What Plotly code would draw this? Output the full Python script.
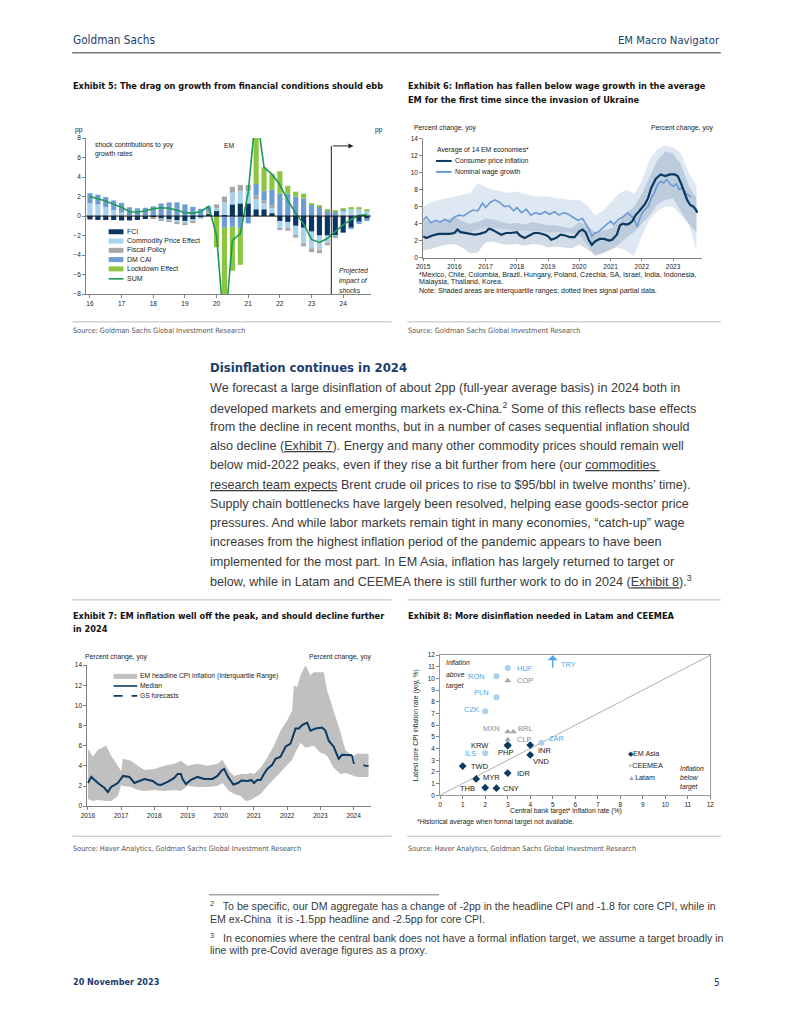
import plotly.graph_objects as go

# The page keeps the browser's default 8px body margin, so the figure is 775x1008 and
# every layout coordinate below is given in page pixels, shifted by that margin.
OFF = 8
W, H = 775, 1008
def X(p): return (p - OFF) / W
def Y(p): return 1 - (p - OFF) / H

NARROW = "Liberation Sans Narrow, DejaVu Sans Condensed, Arial Narrow, sans-serif"
SANS = "Liberation Sans, Arial, Helvetica, sans-serif"
NAVY = "#0b3a63"
HEAD = "#1c3d6b"
TXT = "#3a3a3a"
AX = "#808080"
CF = 6.8  # chart annotation font size

# ---------------- Exhibit 5 data (quarterly shock contributions, pp) ----------------
ex5_quarters = ["2016Q1","2016Q2","2016Q3","2016Q4","2017Q1","2017Q2","2017Q3","2017Q4",
                "2018Q1","2018Q2","2018Q3","2018Q4","2019Q1","2019Q2","2019Q3","2019Q4",
                "2020Q1","2020Q2","2020Q3","2020Q4","2021Q1","2021Q2","2021Q3","2021Q4",
                "2022Q1","2022Q2","2022Q3","2022Q4","2023Q1","2023Q2","2023Q3","2023Q4",
                "2024Q1","2024Q2","2024Q3","2024Q4"]
ex5_tick_quarters = ["2016Q1","2017Q1","2018Q1","2019Q1","2020Q1","2021Q1","2022Q1","2023Q1","2024Q1"]
ex5_tick_text = ["16","17","18","19","20","21","22","23","24"]
ex5_fci = [-0.35,-0.4,-0.4,-0.4,-0.45,-0.45,-0.4,-0.3,-0.2,-0.3,-0.35,-0.45,-0.5,-0.4,-0.2,0.3,
           0.6,0.1,1.2,1.3,1.3,0.7,0.7,0.3,-0.5,-0.6,-1.0,-1.2,-1.6,-2.0,-2.0,-2.0,
           -1.7,-1.2,-0.6,-0.3]
ex5_commodity = [1.3,1.2,0.9,0.6,0.35,0.1,0.05,0.05,0.0,-0.05,-0.15,-0.2,-0.25,-0.2,-0.1,0.05,
                 0.2,1.3,1.2,1.3,1.3,1.0,0.6,0.5,-0.8,-0.7,-1.0,-1.6,-1.7,-1.5,-0.8,-0.1,
                 0.6,0.8,0.8,0.6]
ex5_fiscal = [0.0,0.0,0.0,0.0,0.0,0.0,0.0,0.0,-0.05,-0.1,-0.1,-0.15,-0.1,-0.05,0.0,0.15,
              0.4,0.6,0.6,0.6,0.6,0.4,0.3,0.3,-0.1,-0.2,-0.2,-0.3,-0.4,-0.3,-0.2,-0.1,
              0.0,0.0,0.0,0.0]
ex5_dmcai = [1.05,1.0,1.05,1.0,1.0,0.8,0.75,0.8,1.0,1.3,1.4,1.4,1.2,0.95,0.75,0.5,
             0.0,-1.2,-1.1,-1.2,-0.75,1.2,1.0,1.6,2.3,2.3,2.0,1.8,1.2,1.0,0.6,0.5,
             0.1,-0.05,-0.2,-0.2]
ex5_lockdown = [0,0,0,0,0,0,0,0,0,0,0,0,0,0,0,0,
                -3.2,-12.8,-4.5,-3.8,0.0,7.7,2.4,1.6,2.3,0.8,0.5,0.5,0.1,0.1,0.1,0.1,
                0.1,0.1,0.05,0.05]
ex5_sum = [2.0,1.8,1.55,1.2,0.9,0.45,0.4,0.55,0.75,0.85,0.8,0.6,0.35,0.3,0.45,1.0,
           -2.0,-12.0,-2.5,-1.8,2.4,11.0,5.0,4.3,3.2,1.6,0.3,-0.8,-2.4,-2.7,-2.3,-1.6,
           -0.9,-0.35,0.05,0.15]

# ---------------- Exhibit 6 data (percent change, yoy) ----------------
ex6_cpi_x = [2015.0,2015.1,2015.3,2015.5,2015.7,2015.85,2016.0,2016.1,2016.2,2016.35,2016.5,2016.65,2016.8,
             2017.0,2017.1,2017.2,2017.35,2017.5,2017.65,2017.8,2018.0,2018.1,2018.25,2018.4,2018.55,2018.7,
             2018.9,2019.0,2019.1,2019.25,2019.4,2019.55,2019.7,2019.85,2020.0,2020.1,2020.2,2020.3,2020.4,
             2020.5,2020.65,2020.8,2020.95,2021.05,2021.2,2021.3,2021.4,2021.5,2021.6,2021.7,2021.8,2021.9,
             2022.0,2022.1,2022.2,2022.3,2022.45,2022.6,2022.75,2022.9,2023.05,2023.15,2023.25,2023.35,
             2023.45,2023.55,2023.65,2023.72,2023.78]
ex6_cpi = [2.5,2.3,2.6,2.8,2.8,2.8,2.9,3.3,3.0,2.9,2.8,2.7,2.8,
           3.0,3.4,3.3,3.0,2.7,2.9,2.9,3.0,2.6,2.3,2.6,2.9,2.9,
           2.7,2.5,2.1,2.3,2.7,2.6,2.4,2.4,3.1,3.3,3.0,2.1,1.5,
           1.9,2.2,2.2,2.0,2.1,2.7,3.8,4.0,3.9,4.0,4.3,5.0,5.4,
           5.8,6.3,7.0,8.2,9.3,9.8,9.6,9.8,9.8,9.6,8.8,7.8,
           6.8,6.2,6.0,5.7,5.3]
ex6_wage_x = [2015.0,2015.1,2015.25,2015.4,2015.55,2015.7,2015.85,2016.0,2016.15,2016.3,2016.45,2016.6,
              2016.75,2016.9,2017.0,2017.15,2017.3,2017.45,2017.6,2017.75,2017.9,2018.0,2018.15,2018.3,
              2018.45,2018.6,2018.75,2018.9,2019.05,2019.2,2019.35,2019.5,2019.65,2019.8,2019.95,2020.1,
              2020.2,2020.3,2020.4,2020.5,2020.6,2020.75,2020.9,2021.0,2021.1,2021.25,2021.4,2021.55,
              2021.65,2021.75,2021.85,2021.95,2022.05,2022.2,2022.3,2022.4,2022.5,2022.6,2022.7,2022.8,
              2022.9,2023.0,2023.1,2023.2,2023.3,2023.4,2023.5]
ex6_wage = [4.4,4.8,4.1,4.4,4.2,4.5,4.2,4.8,5.0,4.9,5.3,5.6,
            5.5,6.4,5.9,6.5,6.8,6.5,6.0,6.1,5.5,5.9,5.3,5.7,
            5.0,5.3,5.1,5.4,5.1,5.4,5.0,5.3,5.1,4.8,4.4,4.6,
            4.0,3.4,2.5,2.9,3.0,3.5,3.9,4.3,3.9,4.5,4.8,5.3,
            4.9,4.6,3.6,4.8,5.5,6.0,7.0,7.6,8.6,9.0,8.8,9.2,
            8.7,8.4,8.7,8.0,8.3,7.6,7.3]
ex6_wage_partial_x = [2023.5,2023.6,2023.7]
ex6_wage_partial = [7.3,7.1,7.0]
ex6_band_x = [2015.0,2015.25,2015.5,2015.75,2016.0,2016.25,2016.5,2016.75,2017.0,2017.25,2017.5,2017.75,
              2018.0,2018.25,2018.5,2018.75,2019.0,2019.25,2019.5,2019.75,2020.0,2020.25,2020.5,2020.75,
              2021.0,2021.25,2021.5,2021.75,2022.0,2022.25,2022.5,2022.75,2023.0,2023.25,2023.5,2023.75]
ex6_cpi_hi = [4.5,4.2,4.3,4.5,4.8,4.3,4.0,4.2,4.6,4.5,4.2,4.0,4.1,3.9,4.2,4.0,3.8,3.8,3.6,3.5,
              4.2,3.8,3.0,3.2,3.4,4.2,5.2,6.0,7.5,9.5,11.5,12.5,12.3,11.0,8.5,7.0]
ex6_cpi_lo = [0.8,1.0,1.3,1.5,1.6,1.2,0.5,0.6,1.8,1.9,1.6,1.5,1.6,1.4,1.6,1.5,1.2,1.3,1.2,1.1,
              1.5,1.0,0.3,0.5,0.9,1.5,2.3,3.0,4.0,5.0,6.3,6.8,7.0,5.5,4.0,3.0]
ex6_wage_hi = [6.0,6.5,6.8,7.0,7.2,7.4,7.6,8.8,8.3,8.0,7.8,7.6,7.8,7.5,7.3,7.2,7.2,7.0,6.9,6.8,
               6.8,6.2,5.0,5.5,6.5,7.5,8.0,7.5,9.0,11.5,12.8,13.2,13.0,12.3,10.0,8.5]
ex6_wage_lo = [2.3,2.5,2.6,2.6,2.8,2.8,3.0,3.3,3.6,3.5,3.4,3.3,3.2,3.2,3.1,3.1,3.0,3.0,3.0,2.9,
               2.6,1.5,0.2,0.5,1.0,1.2,0.8,0.2,2.5,4.5,5.5,6.0,6.0,5.0,4.0,0.8]

# ---------------- Exhibit 7 data (EM headline CPI, percent change yoy) ----------------
ex7_x = [2016.0,2016.1,2016.3,2016.5,2016.6,2016.7,2016.9,2017.06,2017.25,2017.4,2017.7,2017.95,2018.1,
         2018.2,2018.4,2018.6,2018.7,2018.8,2018.85,2018.95,2019.1,2019.3,2019.5,2019.75,2019.9,2020.03,
         2020.1,2020.22,2020.38,2020.52,2020.62,2020.82,2020.92,2021.0,2021.1,2021.2,2021.3,2021.4,
         2021.55,2021.65,2021.8,2021.95,2022.1,2022.25,2022.35,2022.45,2022.6,2022.7,2022.85,2023.05,
         2023.15,2023.25,2023.4,2023.5,2023.55,2023.65,2023.8,2023.95]
ex7_median = [2.3,2.9,2.3,1.8,1.4,1.9,2.3,3.0,2.9,2.3,2.7,2.5,2.15,
              2.1,2.4,2.8,3.2,3.2,2.7,2.2,2.6,2.9,2.7,2.7,3.0,3.55,
              3.7,2.9,2.15,2.3,2.55,2.5,2.6,2.3,2.6,2.6,3.2,3.7,
              4.1,4.7,4.9,5.9,6.2,7.7,7.7,8.05,8.3,7.5,7.7,7.8,
              7.5,6.5,5.9,5.05,4.7,5.1,5.1,5.05]
ex7_fc_x = [2023.95,2024.0,2024.1,2024.25,2024.35,2024.45]
ex7_fc = [5.05,4.3,4.2,4.2,4.0,4.0]
ex7_band_x = [2016.0,2016.15,2016.3,2016.5,2016.55,2016.7,2016.9,2017.0,2017.05,2017.3,2017.5,2017.7,
              2018.0,2018.3,2018.6,2018.8,2019.0,2019.3,2019.6,2019.9,2020.05,2020.25,2020.4,2020.6,
              2020.75,2020.9,2021.0,2021.2,2021.4,2021.6,2021.8,2022.0,2022.15,2022.2,2022.3,2022.4,
              2022.55,2022.7,2022.8,2023.0,2023.1,2023.2,2023.4,2023.6,2023.75,2023.85,2024.0,2024.1,
              2024.45]
ex7_hi = [5.7,4.9,5.6,5.9,6.0,5.0,4.0,3.5,4.7,4.5,4.0,3.6,
          3.7,4.0,4.2,4.5,4.0,4.2,4.0,4.2,4.6,3.5,3.0,3.2,
          3.2,3.3,3.2,3.8,4.8,6.0,7.5,8.5,9.5,12.0,11.8,13.0,
          14.0,13.0,13.3,13.3,13.3,11.5,9.5,7.4,5.6,5.3,5.0,5.2,
          5.2]
ex7_lo = [0.7,0.5,0.6,0.5,0.5,0.5,1.0,2.1,2.0,1.9,1.6,1.5,
          1.6,1.5,1.6,1.5,2.0,1.9,1.9,2.0,2.3,1.5,1.2,1.0,
          0.5,0.6,0.8,1.2,2.0,2.7,3.3,4.0,4.6,5.0,5.6,6.3,
          5.8,5.9,6.0,5.3,5.2,5.0,3.8,3.2,3.3,3.2,3.0,2.9,
          2.9]

# ---------------- Exhibit 8 data (target vs latest core CPI) ----------------
asia_names = ["KRW","PHP","INR","VND","TWD","IDR","MYR","THB","CNY"]
asia_target = [3.0,3.0,4.0,4.0,1.0,3.0,1.6,2.0,2.5]
asia_core = [4.3,4.25,4.3,3.45,2.5,1.9,1.4,0.65,0.6]
ceemea_names = ["HUF","RON","PLN","CZK","ILS","ZAR"]
ceemea_target = [3.0,2.5,2.5,2.0,2.0,4.5]
ceemea_core = [10.9,10.2,8.4,7.2,3.6,4.5]
latam_names = ["COP","MXN","BRL","CLP"]
latam_target = [3.0,3.0,3.25,3.0]
latam_core = [9.8,5.45,5.45,4.75]
try_target = 5.0
try_arrow_from = 10.8
# label placement (anchor side, x shift px, y shift px) - styling only
label_style = {
    "KRW": ("right", -17, 0), "PHP": ("center", -2, -7), "INR": ("left", 6, -5), "VND": ("left", 1, -7),
    "TWD": ("left", 6, 0), "IDR": ("left", 7, 0), "MYR": ("left", 5, 1), "THB": ("right", -8, -1),
    "CNY": ("left", 5, 0), "HUF": ("left", 7, 0), "RON": ("right", -9, 0), "PLN": ("right", -5, 5),
    "CZK": ("right", -4, 2), "ILS": ("right", -7, 0), "ZAR": ("left", 6, 4), "COP": ("left", 7, 0),
    "MXN": ("right", -6, 3), "BRL": ("left", 3, 3), "CLP": ("left", 7, 0),
}

fig = go.Figure()

# Exhibit 5 bars
ex5_series = [("FCI", ex5_fci, "#0a3663"), ("Commodity Price Effect", ex5_commodity, "#a9d2ef"),
              ("Fiscal Policy", ex5_fiscal, "#a6a6a6"), ("DM CAI", ex5_dmcai, "#6e9dd3"),
              ("Lockdown Effect", ex5_lockdown, "#8cc63f")]
for name, vals, col in ex5_series:
    fig.add_trace(go.Bar(x=ex5_quarters, y=vals, name=name, marker=dict(color=col, line=dict(width=0)),
                         xaxis="x", yaxis="y", showlegend=False))
fig.add_trace(go.Scatter(x=ex5_quarters, y=ex5_sum, name="SUM", mode="lines",
                         line=dict(color="#1c9a55", width=1.6), xaxis="x", yaxis="y", showlegend=False))

def band(x, lo, hi, color, xa, ya):
    fig.add_trace(go.Scatter(x=x, y=lo, mode="lines", line=dict(width=0), hoverinfo="skip",
                             xaxis=xa, yaxis=ya, showlegend=False))
    fig.add_trace(go.Scatter(x=x, y=hi, mode="lines", line=dict(width=0), fill="tonexty",
                             fillcolor=color, hoverinfo="skip", xaxis=xa, yaxis=ya, showlegend=False))

# Exhibit 6
band(ex6_band_x, ex6_wage_lo, ex6_wage_hi, "rgba(200,217,234,0.6)", "x2", "y2")
band(ex6_band_x, ex6_cpi_lo, ex6_cpi_hi, "rgba(120,150,180,0.33)", "x2", "y2")
fig.add_trace(go.Scatter(x=ex6_wage_x, y=ex6_wage, mode="lines", name="Nominal wage growth",
                         line=dict(color="#6b9ad4", width=1.6), xaxis="x2", yaxis="y2", showlegend=False))
fig.add_trace(go.Scatter(x=ex6_wage_partial_x, y=ex6_wage_partial, mode="lines",
                         line=dict(color="#6b9ad4", width=1.6, dash="dot"), xaxis="x2", yaxis="y2", showlegend=False))
fig.add_trace(go.Scatter(x=ex6_cpi_x, y=ex6_cpi, mode="lines", name="Consumer price inflation",
                         line=dict(color=NAVY, width=2.2), xaxis="x2", yaxis="y2", showlegend=False))

# Exhibit 7
band(ex7_band_x, ex7_lo, ex7_hi, "#c0c0c0", "x3", "y3")
fig.add_trace(go.Scatter(x=ex7_x, y=ex7_median, mode="lines", name="Median",
                         line=dict(color=NAVY, width=2), xaxis="x3", yaxis="y3", showlegend=False))
fig.add_trace(go.Scatter(x=ex7_fc_x, y=ex7_fc, mode="lines", name="GS forecasts",
                         line=dict(color=NAVY, width=1.6, dash="dash"), xaxis="x3", yaxis="y3", showlegend=False))

# Exhibit 8
fig.add_trace(go.Scatter(x=[0, 12], y=[0, 12], mode="lines", line=dict(color="#9a9a9a", width=0.8),
                         hoverinfo="skip", xaxis="x4", yaxis="y4", showlegend=False))
groups = [("EM Asia", asia_names, asia_target, asia_core, "diamond", NAVY, "#1a1a1a"),
          ("CEEMEA", ceemea_names, ceemea_target, ceemea_core, "circle", "#a9d2ef", "#4da6e6"),
          ("Latam", latam_names, latam_target, latam_core, "triangle-up", "#a6a6a6", "#8c8c8c")]
for gname, names, tx, cy, sym, mcol, tcol in groups:
    fig.add_trace(go.Scatter(x=tx, y=cy, mode="markers", text=names, name=gname,
                             marker=dict(symbol=sym, size=6, color=mcol), xaxis="x4", yaxis="y4", showlegend=False))

tickf = dict(family=SANS, size=6.5, color="#222222")
def yax(domain, rng, dtick, anchor, side="left", overlay=None):
    d = dict(domain=[Y(domain[1]), Y(domain[0])], range=rng, dtick=dtick, anchor=anchor, side=side,
             showline=True, linecolor=AX, linewidth=0.8, ticks="outside", ticklen=3, tickcolor=AX,
             tickfont=tickf, showgrid=False, zeroline=False, fixedrange=True)
    if overlay:
        d["overlaying"] = overlay
    return d

layout = dict(width=W, height=H, margin=dict(l=0, r=0, t=0, b=0), paper_bgcolor="white", plot_bgcolor="rgba(0,0,0,0)",
              barmode="relative", bargap=0.35, showlegend=False, font=dict(family=SANS, color="#222"))
layout["xaxis"] = dict(domain=[X(80), X(369)], range=[-0.5, 35.5], type="category", tickmode="array",
                       tickvals=ex5_tick_quarters, ticktext=ex5_tick_text, anchor="y", showline=True,
                       linecolor=AX, linewidth=0.8, ticks="outside", ticklen=3, tickcolor=AX,
                       tickfont=tickf, showgrid=False, fixedrange=True)
layout["yaxis"] = yax((135, 292), [-8, 8], 2, "x")
layout["yaxis5"] = yax((135, 292), [-8, 8], 2, "x", side="right", overlay="y")
layout["xaxis2"] = dict(domain=[X(422), X(705)], range=[2015, 2023.93], tickvals=list(range(2015, 2024)),
                        anchor="y2", showline=True, linecolor=AX, linewidth=0.8, ticks="outside", ticklen=3,
                        tickcolor=AX, tickfont=tickf, showgrid=False, zeroline=False, fixedrange=True)
layout["yaxis2"] = yax((135.7, 255.3), [0, 14], 2, "x2")
layout["yaxis6"] = yax((135.7, 255.3), [0, 14], 2, "x2", side="right", overlay="y2")
layout["xaxis3"] = dict(domain=[X(81.3), X(369)], range=[2015.98, 2024.52], tickvals=list(range(2016, 2025)),
                        anchor="y3", showline=True, linecolor=AX, linewidth=0.8, ticks="outside", ticklen=3,
                        tickcolor=AX, tickfont=tickf, showgrid=False, zeroline=False, fixedrange=True)
layout["yaxis3"] = yax((665.7, 807.7), [0, 14], 2, "x3")
layout["yaxis7"] = yax((665.7, 807.7), [0, 14], 2, "x3", side="right", overlay="y3")
layout["xaxis4"] = dict(domain=[X(439.3), X(713.3)], range=[0, 12], dtick=1, anchor="y4", showline=True,
                        mirror=True, linecolor="#9a9a9a", linewidth=0.8, ticks="outside", ticklen=3, tickcolor=AX,
                        tickfont=tickf, showgrid=False, zeroline=False, fixedrange=True)
layout["yaxis4"] = dict(domain=[Y(796.7), Y(655.7)], range=[0, 12], dtick=1, anchor="x4", showline=True,
                        mirror=True, linecolor="#9a9a9a", linewidth=0.8, ticks="outside", ticklen=3, tickcolor=AX,
                        tickfont=tickf, showgrid=False, zeroline=False, fixedrange=True)

ann = []
shapes = []
def T(x, y, s, size=CF, color="#222", xanchor="left", family=SANS, yanchor="middle", angle=0):
    ann.append(dict(x=X(x), y=Y(y), xref="paper", yref="paper", text=s, showarrow=False, xanchor=xanchor,
                    yanchor=yanchor, font=dict(family=family, size=size, color=color), align="left",
                    textangle=angle, borderpad=0))
def HL(x0, x1, y, color="#bdbdbd", width=1, dash=None):
    shapes.append(dict(type="line", xref="paper", yref="paper", x0=X(x0), x1=X(x1), y0=Y(y), y1=Y(y),
                       line=dict(color=color, width=width, dash=dash)))
def RECT(x0, x1, y0, y1, color):
    shapes.append(dict(type="rect", xref="paper", yref="paper", x0=X(x0), x1=X(x1), y0=Y(y1), y1=Y(y0),
                       fillcolor=color, line=dict(width=0)))

# page header / footer
T(66, 36, "Goldman Sachs", 11.7, HEAD, family=NARROW)
T(724, 37, "EM Macro Navigator", 11.2, HEAD, xanchor="right", family=NARROW)
HL(66, 724, 49, "#777777", 1.5)
T(66, 985, "<b>20 November 2023</b>", 9, HEAD, family=NARROW)
T(724, 985, "5", 10, HEAD, xanchor="right", family=NARROW)

# Exhibit titles and sources
TS = 9.15
T(66, 83, "<b>Exhibit 5: The drag on growth from financial conditions should ebb</b>", TS, "#111", family=NARROW)
T(406, 83, "<b>Exhibit 6: Inflation has fallen below wage growth in the average</b>", TS, "#111", family=NARROW)
T(406, 97, "<b>EM for the first time since the invasion of Ukraine</b>", TS, "#111", family=NARROW)
T(66, 616, "<b>Exhibit 7: EM inflation well off the peak, and should decline further</b>", TS, "#111", family=NARROW)
T(66, 629, "<b>in 2024</b>", TS, "#111", family=NARROW)
T(406, 616, "<b>Exhibit 8: More disinflation needed in Latam and CEEMEA</b>", TS, "#111", family=NARROW)
HL(66, 390, 320); HL(406, 724, 320)
T(66, 329, "Source: Goldman Sachs Global Investment Research", 7.3, "#555", family=NARROW)
T(406, 329, "Source: Goldman Sachs Global Investment Research", 7.3, "#555", family=NARROW)
HL(66, 390, 600); HL(406, 724, 600)
HL(66, 390, 838); HL(406, 724, 838)
T(66, 850, "Source: Haver Analytics, Goldman Sachs Global Investment Research", 7.3, "#555", family=NARROW)
T(406, 850, "Source: Haver Analytics, Goldman Sachs Global Investment Research", 7.3, "#555", family=NARROW)

# Exhibit 5 annotations
T(73, 127, "pp", xanchor="center"); T(377, 127, "pp", xanchor="center")
T(88, 142, "shock contributions to yoy"); T(88, 150.5, "growth rates")
T(219, 142, "EM")
T(336, 269, "<i>Projected</i>"); T(336, 278.5, "<i>impact of</i>"); T(336, 288, "<i>shocks</i>")
leg5 = [("FCI", 229.3, "#0a3663"), ("Commodity Price Effect", 238.7, "#a9d2ef"), ("Fiscal Policy", 248, "#a6a6a6"),
        ("DM CAI", 257.3, "#6e9dd3"), ("Lockdown Effect", 266.7, "#8cc63f")]
for name, yy, col in leg5:
    RECT(103, 118, yy - 2.5, yy + 2.5, col)
    T(121, yy, name, 7)
HL(103, 118, 276.7, "#1c9a55", 1.6)
T(121, 276.7, "SUM", 7)
shapes.append(dict(type="line", xref="x", yref="y", x0=30.5, x1=30.5, y0=-8, y1=7.2, line=dict(color="#222", width=1)))
ann.append(dict(x=33.3, y=7.2, ax=30.5, ay=7.2, xref="x", yref="y", axref="x", ayref="y", text="",
                showarrow=True, arrowhead=2, arrowsize=1, arrowwidth=1, arrowcolor="#222"))
shapes.append(dict(type="line", xref="x", yref="y", x0=-0.5, x1=35.5, y0=0, y1=0, line=dict(color="#111", width=1)))

# Exhibit 6 annotations
T(412, 125, "Percent change, yoy"); T(718, 125, "Percent change, yoy", xanchor="right")
T(435, 147, "Average of 14 EM economies*")
HL(435, 451, 158, NAVY, 2); T(453, 158, "Consumer price inflation")
HL(435, 451, 169, "#6b9ad4", 2); T(453, 169, "Nominal wage growth")
T(417, 272.5, "*Mexico, Chile, Colombia, Brazil, Hungary, Poland, Czechia, SA, Israel, India, Indonesia,", 7.1)
T(417, 280, "Malaysia, Thailand, Korea.", 7.1)
T(417, 288.5, "Note: Shaded areas are interquartile ranges; dotted lines signal partial data.", 7.1)

# Exhibit 7 annotations
T(78, 658, "Percent change, yoy"); T(371, 658, "Percent change, yoy", xanchor="right")
RECT(108, 132, 674.5, 679.5, "#c0c0c0"); T(134, 677, "EM headline CPI inflation (Interquartile Range)", 6.7)
HL(108, 132, 686.7, NAVY, 1.6); T(134, 686.7, "Median", 6.7)
HL(108, 132, 696.7, NAVY, 1.6, "dash"); T(134, 696.7, "GS forecasts", 6.7)

# Exhibit 8 annotations
for gname, names, tx, cy, sym, mcol, tcol in groups:
    for nm, xv, yv in zip(names, tx, cy):
        anc, dx, dy = label_style[nm]
        ann.append(dict(x=xv, y=yv, xref="x4", yref="y4", text=nm, showarrow=False, xanchor=anc,
                        yanchor="middle", xshift=dx, yshift=dy, font=dict(family=SANS, size=7.5, color=tcol)))
T(444, 663, "<i>Inflation</i>"); T(444, 675, "<i>above</i>"); T(444, 687, "<i>target</i>")
T(682, 770, "<i>Inflation</i>"); T(682, 779, "<i>below</i>"); T(682, 788, "<i>target</i>")
T(629, 755, "<span style='color:#0b3a63'>◆</span>EM Asia", 7.2)
T(629, 767, "<span style='color:#a9d2ef'>●</span>CEEMEA", 7.2)
T(629, 779, "<span style='color:#a6a6a6'>▲</span>Latam", 7.2)
T(567, 813, "Central bank target* inflation rate (%)", 6.8, xanchor="center")
T(415, 726, "Latest core CPI inflation rate (yoy, %)", 6.8, xanchor="center", angle=-90)
T(415, 824, "*Historical average when formal target not available.", 6.8)
ann.append(dict(x=try_target, y=12, ax=try_target, ay=try_arrow_from, xref="x4", yref="y4", axref="x4", ayref="y4",
                text="", showarrow=True, arrowhead=1, arrowsize=1.2, arrowwidth=1.4, arrowcolor="#4da6e6"))
ann.append(dict(x=try_target, y=11.2, xref="x4", yref="y4", text="TRY", showarrow=False, xanchor="left",
                xshift=6, font=dict(family=SANS, size=7.5, color="#4da6e6")))

# Body text
T(205, 366, "<b>Disinflation continues in 2024</b>", 13, HEAD, family=NARROW)
U = "<span style='text-decoration:underline'>%s</span>"
body = [
    "We forecast a large disinflation of about 2pp (full-year average basis) in 2024 both in",
    "developed markets and emerging markets ex-China.<sup>2</sup> Some of this reflects base effects",
    "from the decline in recent months, but in a number of cases sequential inflation should",
    "also decline (" + U % "Exhibit 7" + "). Energy and many other commodity prices should remain well",
    "below mid-2022 peaks, even if they rise a bit further from here (our " + U % "commodities ",
    U % "research team expects" + " Brent crude oil prices to rise to $95/bbl in twelve months’ time).",
    "Supply chain bottlenecks have largely been resolved, helping ease goods-sector price",
    "pressures. And while labor markets remain tight in many economies, “catch-up” wage",
    "increases from the highest inflation period of the pandemic appears to have been",
    "implemented for the most part. In EM Asia, inflation has largely returned to target or",
    "below, while in Latam and CEEMEA there is still further work to do in 2024 (" + U % "Exhibit 8" + ").<sup>3</sup>",
]
for i, line in enumerate(body):
    T(205, 387 + i * 19.4, line, 12.6, TXT)

# Footnotes
HL(205, 438, 897, "#555", 0.8)
T(205, 908, "<sup>2</sup>   To be specific, our DM aggregate has a change of -2pp in the headline CPI and -1.8 for core CPI, while in", 10.6, TXT)
T(205, 921, "EM ex-China  it is -1.5pp headline and -2.5pp for core CPI.", 10.6, TXT)
T(205, 940, "<sup>3</sup>   In economies where the central bank does not have a formal inflation target, we assume a target broadly in", 10.6, TXT)
T(205, 953, "line with pre-Covid average figures as a proxy.", 10.6, TXT)

layout["annotations"] = ann
layout["shapes"] = shapes
fig.update_layout(**layout)
fig.write_html("out.html", config={"displayModeBar": False, "responsive": False})
